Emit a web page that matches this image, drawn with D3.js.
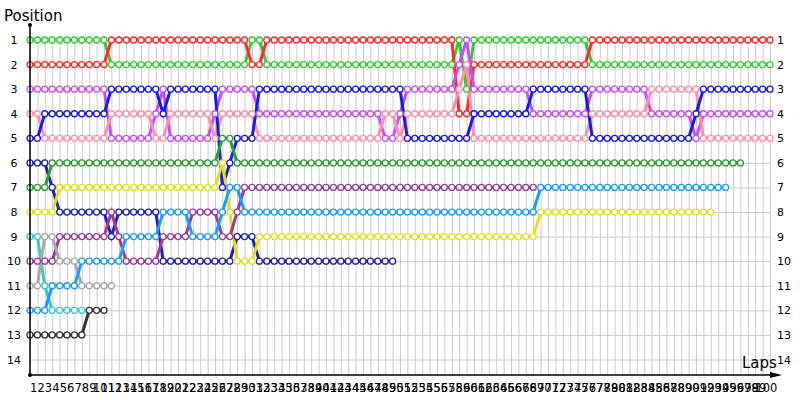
<!DOCTYPE html>
<html>
<head>
<meta charset="utf-8">
<script src="https://cdn.jsdelivr.net/npm/d3@7/dist/d3.min.js"></script>
<style>
body { margin: 0; background: #fff; }
svg { display: block; font-family: "DejaVu Sans", Verdana, sans-serif; }
</style>
</head>
<body>
<svg id="chart" width="800" height="400"></svg>
<script>
// tick labels
var lapLabels = [1,2,3,4,5,6,7,8,9,10,11,12,13,14,15,16,17,18,19,20,
    21,22,23,24,25,26,27,28,29,30,31,32,33,34,35,36,37,38,39,40,
    41,42,43,44,45,46,47,48,49,50,51,52,53,54,55,56,57,58,59,60,
    61,62,63,64,65,66,67,68,69,70,71,72,73,74,75,76,77,78,79,80,
    81,82,83,84,85,86,87,88,89,90,91,92,93,94,95,96,97,98,99,100];
var positions = [1,2,3,4,5,6,7,8,9,10,11,12,13,14];

// position of every car, index = lap (0 = grid)
var green = [1,1,1,1,1,1,1,1,1,1, 1,2,2,2,2,2,2,2,2,2, 2,2,2,2,2,2,2,2,2,2,
    1,1,2,2,2,2,2,2,2,2, 2,2,2,2,2,2,2,2,2,2, 2,2,2,2,2,2,2,2,1,3,
    1,1,1,1,1,1,1,1,1,1, 1,1,1,1,1,1,2,2,2,2, 2,2,2,2,2,2,2,2,2,2,
    2,2,2,2,2,2,2,2,2,2, 2];
var red = [2,2,2,2,2,2,2,2,2,2, 2,1,1,1,1,1,1,1,1,1, 1,1,1,1,1,1,1,1,1,1,
    2,2,1,1,1,1,1,1,1,1, 1,1,1,1,1,1,1,1,1,1, 1,1,1,1,1,1,1,1,4,4,
    2,2,2,2,2,2,2,2,2,2, 2,2,2,2,2,2,1,1,1,1, 1,1,1,1,1,1,1,1,1,1,
    1,1,1,1,1,1,1,1,1,1, 1];
var violet = [3,3,3,3,3,3,3,3,3,3, 3,5,5,5,5,5,5,4,3,5, 5,5,5,5,5,4,3,3,3,3,
    3,4,4,4,4,4,4,4,4,4, 4,4,4,4,4,4,4,4,5,5, 4,3,3,3,3,3,3,3,2,1,
    3,3,3,3,3,3,3,3,4,4, 4,4,4,4,4,4,3,3,3,3, 3,3,3,3,4,4,4,4,4,4,
    5,4,4,4,4,4,4,4,4,4, 4];
var pink = [4,4,5,5,5,5,5,5,5,5, 5,4,4,4,4,4,4,5,5,4, 4,4,4,4,4,5,4,4,4,4,
    4,5,5,5,5,5,5,5,5,5, 5,5,5,5,5,5,5,5,4,4, 5,4,4,4,4,4,4,4,3,2,
    5,5,5,5,5,5,5,5,5,5, 5,5,5,5,5,5,4,4,4,4, 4,4,4,4,3,3,3,3,3,3,
    3,5,5,5,5,5,5,5,5,5, 5];
var blue = [5,5,4,4,4,4,4,4,4,4, 4,3,3,3,3,3,3,3,4,3, 3,3,3,3,3,3,7,6,5,5,
    5,3,3,3,3,3,3,3,3,3, 3,3,3,3,3,3,3,3,3,3, 3,5,5,5,5,5,5,5,5,5,
    4,4,4,4,4,4,4,4,3,3, 3,3,3,3,3,3,5,5,5,5, 5,5,5,5,5,5,5,5,5,5,
    4,3,3,3,3,3,3,3,3,3, 3];
var navy = [6,6,6,7,8,8,8,8,8,8, 8,9,8,8,8,8,8,8,10,10, 10,10,10,10,10,10,10,10,9,9,
    9,10,10,10,10,10,10,10,10,10, 10,10,10,10,10,10,10,10,10,10];
var darkGreen = [7,7,7,6,6,6,6,6,6,6, 6,6,6,6,6,6,6,6,6,6, 6,6,6,6,6,6,5,5,6,6,
    6,6,6,6,6,6,6,6,6,6, 6,6,6,6,6,6,6,6,6,6, 6,6,6,6,6,6,6,6,6,6,
    6,6,6,6,6,6,6,6,6,6, 6,6,6,6,6,6,6,6,6,6, 6,6,6,6,6,6,6,6,6,6,
    6,6,6,6,6,6,6];
var yellow = [8,8,8,8,7,7,7,7,7,7, 7,7,7,7,7,7,7,7,7,7, 7,7,7,7,7,7,6,8,10,10,
    10,9,9,9,9,9,9,9,9,9, 9,9,9,9,9,9,9,9,9,9, 9,9,9,9,9,9,9,9,9,9,
    9,9,9,9,9,9,9,9,9,8, 8,8,8,8,8,8,8,8,8,8, 8,8,8,8,8,8,8,8,8,8,
    8,8,8];
var turquoise = [9,9,11,12,12,12,12,12];
var purple = [10,10,10,10,9,9,9,9,9,9, 9,8,9,10,10,10,10,10,9,9, 9,9,8,8,8,8,9,9,8,7,
    7,7,7,7,7,7,7,7,7,7, 7,7,7,7,7,7,7,7,7,7, 7,7,7,7,7,7,7,7,7,7,
    7,7,7,7,7,7,7,7,7];
var gray = [11,11,9,9,10,10,10,11,11,11, 11,11];
var lightBlue = [12,12,12,11,11,11,11,10,10,10, 10,10,10,9,9,9,9,9,8,8, 8,8,9,9,9,9,8,7,7,8,
    8,8,8,8,8,8,8,8,8,8, 8,8,8,8,8,8,8,8,8,8, 8,8,8,8,8,8,8,8,8,8,
    8,8,8,8,8,8,8,8,8,7, 7,7,7,7,7,7,7,7,7,7, 7,7,7,7,7,7,7,7,7,7,
    7,7,7,7,7];
var darkGray = [13,13,13,13,13,13,13,13,12,12, 12];

var drivers = [
    {color: "#33cc33", pos: green},
    {color: "#ff2a2a", pos: red},
    {color: "#c84dff", pos: violet},
    {color: "#ff8fab", pos: pink},
    {color: "#1a1aee", pos: blue},
    {color: "#2222aa", pos: navy},
    {color: "#349a34", pos: darkGreen},
    {color: "#e0e020", pos: yellow},
    {color: "#3cc8c8", pos: turquoise},
    {color: "#993d99", pos: purple},
    {color: "#aaaaaa", pos: gray},
    {color: "#1e9bff", pos: lightBlue},
    {color: "#333333", pos: darkGray}
];

var svg = d3.select("#chart");
svg.append("rect").attr("width", 800).attr("height", 400).attr("fill", "#fff");

var x = d3.scaleLinear().domain([0, 100]).range([30, 770]);
var y = d3.scaleLinear().domain([1, 14]).range([40, 359.5]);
var axisY = 375;

////////////////////////////////////////////////////////////
// grid
svg.append("g")
    .attr("transform", "translate(0," + axisY + ")")
    .call(d3.axisBottom(x).ticks(100).tickSize(-(axisY - 36)).tickFormat(""))
    .call(function (g) {
        g.select(".domain").remove();
        g.selectAll("line").attr("stroke", "#cccccc");
    });

svg.append("g")
    .attr("transform", "translate(30,0)")
    .call(d3.axisLeft(y).tickValues(positions).tickSize(-740).tickFormat(""))
    .call(function (g) {
        g.select(".domain").remove();
        g.selectAll("line").attr("stroke", "#cccccc");
    });

////////////////////////////////////////////////////////////
// laps
var line = d3.line()
    .x(function (d, i) { return x(i); })
    .y(function (d) { return y(d); });

svg.append("g").selectAll("path")
    .data(drivers)
    .enter().append("path")
    .attr("d", function (d) { return line(d.pos); })
    .attr("fill", "none")
    .attr("stroke", function (d) { return d.color; })
    .attr("stroke-width", 3);

var cars = svg.append("g").selectAll("g")
    .data(drivers)
    .enter().append("g")
    .attr("stroke", function (d) { return d.color; });

cars.selectAll("circle")
    .data(function (d) { return d.pos; })
    .enter().append("circle")
    .attr("cx", function (d, i) { return x(i); })
    .attr("cy", function (d) { return y(d); })
    .attr("r", 3)
    .attr("fill", "#fff")
    .attr("stroke-width", 1.3);

////////////////////////////////////////////////////////////
// axes
svg.append("line")
    .attr("x1", 30).attr("y1", 25).attr("x2", 30).attr("y2", axisY)
    .attr("stroke", "#000").attr("stroke-width", 1.5);
svg.append("line")
    .attr("x1", 30).attr("y1", axisY).attr("x2", 772).attr("y2", axisY)
    .attr("stroke", "#000").attr("stroke-width", 1.5);
svg.append("path")
    .attr("d", "M770," + (axisY - 3) + "L782," + axisY + "L770," + (axisY + 3) + "Z")
    .attr("fill", "#000");
svg.append("circle").attr("cx", 30).attr("cy", 25).attr("r", 2).attr("fill", "#000");
svg.append("circle").attr("cx", 30).attr("cy", axisY).attr("r", 2).attr("fill", "#000");

// position labels, both sides
svg.append("g").selectAll("text")
    .data(positions)
    .enter().append("text")
    .attr("x", 14)
    .attr("y", function (d) { return y(d) + 4; })
    .attr("font-size", 11)
    .attr("text-anchor", "middle")
    .text(function (d) { return d; });

svg.append("g").selectAll("text")
    .data(positions)
    .enter().append("text")
    .attr("x", 777)
    .attr("y", function (d) { return y(d) + 4; })
    .attr("font-size", 11)
    .text(function (d) { return d; });

// lap labels sit between grid lines
svg.append("g").selectAll("text")
    .data(lapLabels)
    .enter().append("text")
    .attr("x", function (d) { return x(d - 0.5); })
    .attr("y", 392)
    .attr("font-size", 11.5)
    .attr("text-anchor", "middle")
    .text(function (d) { return d; });

svg.append("text").attr("x", 4).attr("y", 21).attr("font-size", 15).text("Position");
svg.append("text").attr("x", 742).attr("y", 368).attr("font-size", 15).text("Laps");
</script>
</body>
</html>
